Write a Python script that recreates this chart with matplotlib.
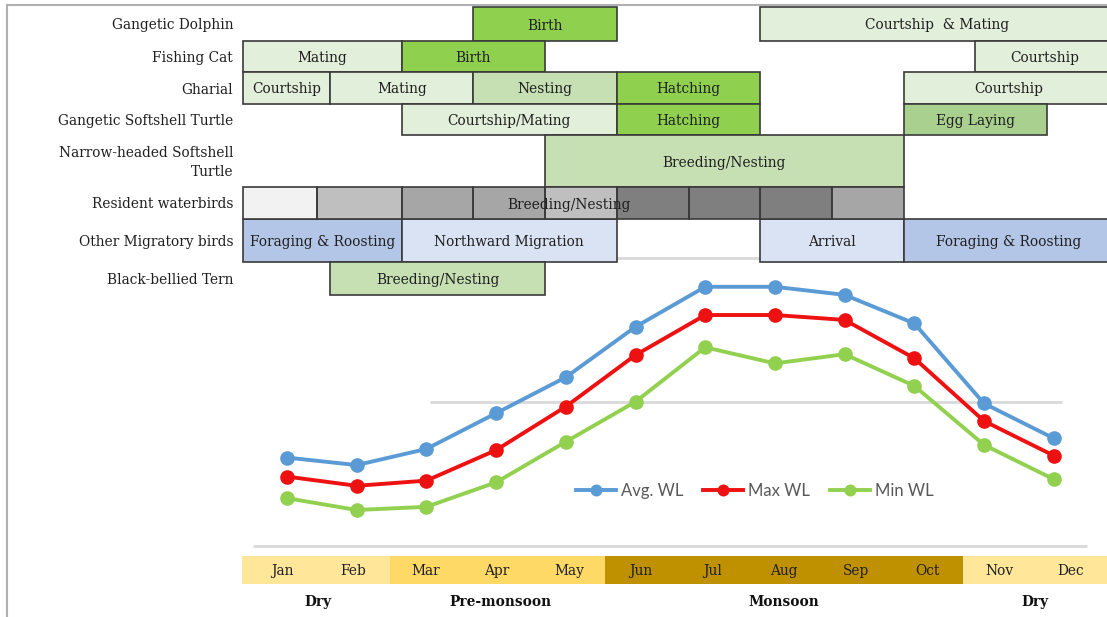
# Seasonal life-history calendar + monthly water level (Avg / Max / Min WL)

import matplotlib.pyplot as plt
from matplotlib.lines import Line2D

plt.rcParams['font.family'] = ['DejaVu Serif']

# Data ------------------------------------------------------------------
months = ['Jan', 'Feb', 'Mar', 'Apr', 'May', 'Jun',
          'Jul', 'Aug', 'Sep', 'Oct', 'Nov', 'Dec']
avg_wl = [3.07, 2.81, 3.37, 4.61, 5.86, 7.61, 9.00, 9.00, 8.72, 7.73, 4.95, 3.74]
max_wl = [2.41, 2.09, 2.27, 3.33, 4.84, 6.63, 8.02, 8.02, 7.85, 6.52, 4.34, 3.14]
min_wl = [1.66, 1.25, 1.36, 2.21, 3.62, 5.01, 6.90, 6.34, 6.66, 5.56, 3.51, 2.32]

species = ['Gangetic Dolphin', 'Fishing Cat', 'Gharial', 'Gangetic Softshell Turtle',
           'Narrow-headed Softshell\nTurtle', 'Resident waterbirds',
           'Other Migratory birds', 'Black-bellied Tern']

# (row, start, end, label, kind) -- start/end in months, Jan centred on 0
activities = [
    (0, 2.67, 4.67, 'Birth', 'birth'),
    (0, 6.67, 11.6, 'Courtship  & Mating', 'court'),
    (1, -0.54, 1.67, 'Mating', 'court'),
    (1, 1.67, 3.67, 'Birth', 'birth'),
    (1, 9.67, 11.6, 'Courtship', 'court'),
    (2, -0.54, 0.67, 'Courtship', 'court'),
    (2, 0.67, 2.67, 'Mating', 'court'),
    (2, 2.67, 4.67, 'Nesting', 'nest'),
    (2, 4.67, 6.67, 'Hatching', 'birth'),
    (2, 8.67, 11.6, 'Courtship', 'court'),
    (3, 1.67, 4.67, 'Courtship/Mating', 'court'),
    (3, 4.67, 6.67, 'Hatching', 'birth'),
    (3, 8.67, 10.67, 'Egg Laying', 'egg'),
    (4, 3.67, 8.67, 'Breeding/Nesting', 'nest'),
    (6, -0.54, 1.67, 'Foraging & Roosting', 'forage'),
    (6, 1.67, 4.67, 'Northward Migration', 'migr'),
    (6, 6.67, 8.67, 'Arrival', 'migr'),
    (6, 8.67, 11.6, 'Foraging & Roosting', 'forage'),
    (7, 0.67, 3.67, 'Breeding/Nesting', 'nest'),
]

resident_start = [-0.54, 0.49, 1.67, 2.67, 3.67, 4.67, 5.67, 6.67, 7.67]
resident_end = [0.49, 1.67, 2.67, 3.67, 4.67, 5.67, 6.67, 7.67, 8.67]
resident_shade = ['#f2f2f2', '#bfbfbf', '#a6a6a6', '#a6a6a6', '#bfbfbf',
                  '#7f7f7f', '#7f7f7f', '#7f7f7f', '#a6a6a6']
resident_label = 'Breeding/Nesting'
resident_label_x = 4.0

month_season = [0, 0, 1, 1, 1, 2, 2, 2, 2, 2, 0, 0]
seasons = ['Dry', 'Pre-monsoon', 'Monsoon', 'Dry']
season_x = [0.5, 3.05, 7.0, 10.5]

# Styles / layout -------------------------------------------------------
kind_col = {'court': '#e2efda', 'birth': '#8fd14f', 'nest': '#c6e0b4',
            'egg': '#a9d08e', 'forage': '#b4c6e7', 'migr': '#dae3f3'}
band_col = ['#ffe699', '#ffd966', '#bf9000']
row_top = [7, 41, 72, 104, 135, 187, 219, 262]
row_bot = [41, 72, 104, 135, 187, 219, 262, 295]
edge = '#3a3a3a'
txt = '#1f1f1f'
fs = 9.9

W, H = 1107, 617
fig = plt.figure(figsize=(W / 100, H / 100), dpi=100)
fig.patch.set_facecolor('white')

# line chart (own x scale, sits below the calendar table)
ax_c = fig.add_axes([0, 0, 1, 1], zorder=0)
ax_c.set_xlim((0 - 287) / 69.7, (W - 287) / 69.7)
ax_c.set_ylim((546 - H) / 28.8, 546 / 28.8)
ax_c.axis('off')
ax_c.hlines([0, 10], -0.49, 11.48, color='#d9d9d9', lw=2, zorder=1)
ax_c.hlines(5, 2.05, 11.12, color='#d9d9d9', lw=2, zorder=1)

x = range(len(months))
l1, = ax_c.plot(x, avg_wl, color='#5b9bd5', lw=2.8, marker='o', ms=9.5, label='Avg. WL', zorder=3)
l2, = ax_c.plot(x, max_wl, color='#ee1111', lw=2.8, marker='o', ms=9.5, label='Max WL', zorder=3)
l3, = ax_c.plot(x, min_wl, color='#92d050', lw=2.8, marker='o', ms=9.5, label='Min WL', zorder=3)
leg = ax_c.legend(handles=[l1, l2, l3], ncol=3, frameon=False,
                  loc='center', bbox_to_anchor=(755 / W, 1 - 491 / H),
                  bbox_transform=fig.transFigure,
                  prop={'family': 'Lato', 'size': 12},
                  handlelength=2.4, columnspacing=1.2, handletextpad=0.3, markerscale=0.8)
for t in leg.get_texts():
    t.set_color('#595959')

# calendar table + month band
ax_g = fig.add_axes([0, 0, 1, 1], zorder=1)
ax_g.set_xlim((0 - 282) / 71.7, (W - 282) / 71.7)
ax_g.set_ylim(H, 0)
ax_g.axis('off')
ax_g.patch.set_alpha(0)

for i, name in enumerate(species):
    ax_g.text(-0.68, (row_top[i] + row_bot[i]) / 2 + 1.5, name, ha='right', va='center',
              fontsize=fs, color=txt, linespacing=1.4)

for row, s, e, lab, kind in activities:
    yc = (row_top[row] + row_bot[row]) / 2
    ax_g.barh(yc, e - s, left=s, height=row_bot[row] - row_top[row],
              color=kind_col[kind], edgecolor=edge, lw=1.2)
    ax_g.text((s + e) / 2, yc + 1.5, lab, ha='center', va='center', fontsize=fs, color=txt)

r = species.index('Resident waterbirds')
yc = (row_top[r] + row_bot[r]) / 2
hh = row_bot[r] - row_top[r]
widths = [e - s for s, e in zip(resident_start, resident_end)]
ax_g.barh([yc] * len(widths), widths, left=resident_start, height=hh,
          color=resident_shade, lw=0)
ax_g.text(resident_label_x, yc + 1.5, resident_label, ha='center', va='center',
          fontsize=fs, color=txt)
ax_g.barh([yc] * len(widths), widths, left=resident_start, height=hh,
          color='none', edgecolor=edge, lw=1.2)

band_left = [i - 0.5 for i in x]
band_left[0] = -0.56
band_w = [1.0] * len(months)
band_w[0] = 1.06
ax_g.bar(band_left, 28, bottom=556, width=band_w, align='edge',
         color=[band_col[k] for k in month_season], lw=0)
for i, m in enumerate(months):
    ax_g.text(i, 571, m, ha='center', va='center', fontsize=fs, color=txt)
for sx, sname in zip(season_x, seasons):
    ax_g.text(sx, 602, sname, ha='center', va='center', fontsize=fs,
              fontweight='bold', color='#111111')

# thin frame (top and left edges)
fig.add_artist(Line2D([7 / W, 7 / W], [0, 1 - 5 / H], transform=fig.transFigure,
                      color='#b0b0b0', lw=1.5))
fig.add_artist(Line2D([7 / W, 1], [1 - 5 / H, 1 - 5 / H], transform=fig.transFigure,
                      color='#b0b0b0', lw=1.5))

fig.savefig('out.png', dpi=100)
